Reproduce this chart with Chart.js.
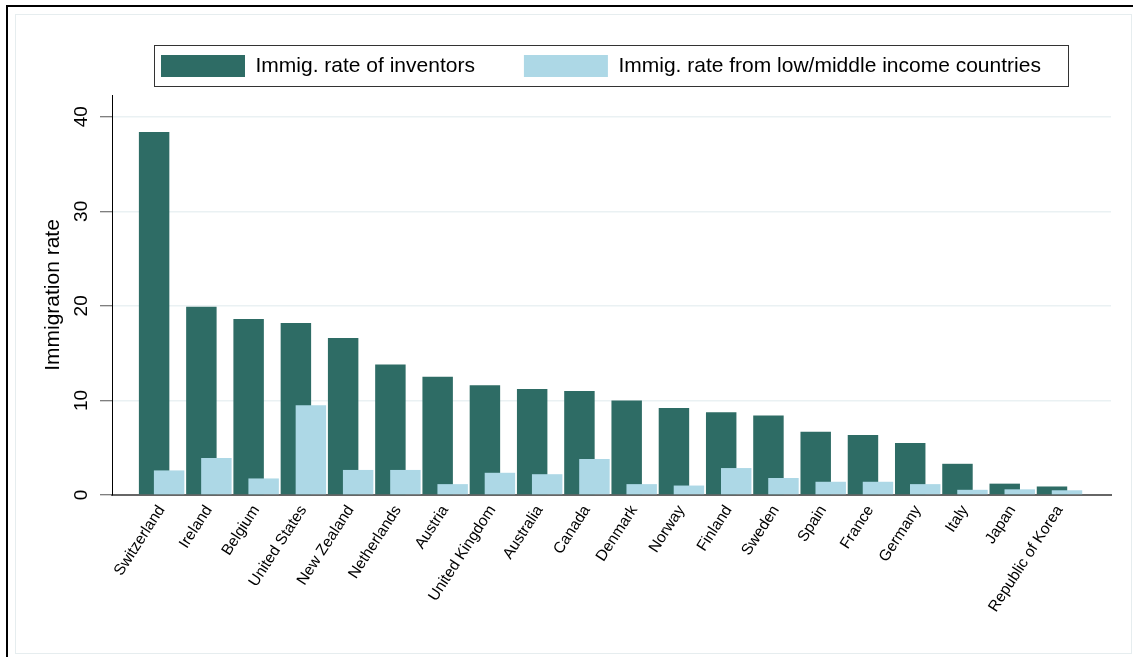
<!DOCTYPE html>
<html>
<head>
<meta charset="utf-8">
<script src="https://cdn.jsdelivr.net/npm/chart.js@4.4.1/dist/chart.umd.min.js"></script>
<style>
  body { margin: 0; background: #fff; }
  #wrap { position: relative; width: 1133px; height: 657px; }
  #outer { position: absolute; left: 6px; top: 5px; right: 0; bottom: 0;
           border-top: 2px solid #000; border-left: 2px solid #000; pointer-events: none; }
  #inner { position: absolute; left: 15px; top: 14px; width: 1115px; height: 638px;
           border: 1px solid #e6edef; pointer-events: none; }
  canvas { position: absolute; left: 0; top: 0; }
</style>
</head>
<body>
<div id="wrap">
  <canvas id="barChart" width="1133" height="657"></canvas>
  <div id="inner"></div>
  <div id="outer"></div>
</div>
<script>
const countries = ["Switzerland", "Ireland", "Belgium", "United States", "New Zealand",
  "Netherlands", "Austria", "United Kingdom", "Australia", "Canada", "Denmark", "Norway",
  "Finland", "Sweden", "Spain", "France", "Germany", "Italy", "Japan", "Republic of Korea"];
const inventorRate = [38.4, 19.9, 18.6, 18.2, 16.6, 13.8, 12.5, 11.6, 11.2, 11.0,
  10.0, 9.2, 8.75, 8.4, 6.7, 6.35, 5.5, 3.3, 1.2, 0.9];
const lowMidRate = [2.6, 3.9, 1.75, 9.5, 2.65, 2.65, 1.15, 2.35, 2.2, 3.8,
  1.15, 1.0, 2.85, 1.8, 1.4, 1.4, 1.15, 0.55, 0.6, 0.5];
const yTicks = [0, 10, 20, 30, 40];

const font = "'Liberation Sans', Arial, sans-serif";

// light bars are drawn after the dark ones (they overlap on the right)
const drawOrder = {
  id: "drawOrder",
  beforeDatasetsDraw(chart) {
    chart.getDatasetMeta(0).controller.draw();
    chart.getDatasetMeta(1).controller.draw();
    return false;
  },
  afterDraw(chart) {
    // frame round the legend
    const hb = chart.legend.legendHitBoxes;
    if (!hb || !hb.length) return;
    const last = hb[hb.length - 1];
    const left = Math.round(hb[0].left - 7) + 0.5;
    const top = Math.round(hb[0].top - 10) + 0.5;
    const right = Math.round(last.left + last.width + 27) + 0.5;
    const ctx = chart.ctx;
    ctx.save();
    ctx.strokeStyle = "#333";
    ctx.lineWidth = 1;
    ctx.strokeRect(left, top, right - left, 41);
    ctx.restore();
  }
};

new Chart(document.getElementById("barChart"), {
  type: "bar",
  data: {
    datasets: [
      {
        label: "Immig. rate of inventors",
        data: inventorRate.map((v, i) => ({ x: i, y: v })),
        backgroundColor: "#2e6c65",
        borderWidth: 0
      },
      {
        label: "Immig. rate from low/middle income countries",
        data: lowMidRate.map((v, i) => ({ x: i, y: v })),
        backgroundColor: "#add8e6",
        borderWidth: 0
      }
    ]
  },
  options: {
    responsive: false,
    animation: false,
    categoryPercentage: 0.635,
    barPercentage: 2.03,
    layout: { padding: { left: 20, right: 22, top: 6, bottom: 0 } },
    plugins: {
      tooltip: { enabled: false },
      legend: {
        position: "top",
        fullSize: false,
        align: "start",
        labels: {
          boxWidth: 84,
          boxHeight: 22,
          padding: 49,
          color: "#000",
          font: { family: font, size: 21 }
        }
      },
      // empty spacer between the legend and the plot
      title: {
        display: true,
        text: [],
        weight: 500,
        fullSize: false,
        padding: { top: 8, bottom: 0 }
      }
    },
    scales: {
      x: {
        type: "linear",
        offset: false,
        min: -1.05,
        max: 20.09,
        grid: { display: false, drawTicks: false },
        border: { color: "#666", width: 2 },
        afterFit: s => { s.height = 162; },
        ticks: {
          stepSize: 1,
          autoSkip: false,
          includeBounds: false,
          minRotation: 57,
          maxRotation: 57,
          padding: 7,
          color: "#000",
          font: { family: font, size: 15.5 },
          callback: v => countries[v] ?? null
        }
      },
      y: {
        min: 0,
        max: 42.3,
        afterFit: s => { s.width = 92; },
        afterBuildTicks: s => { s.ticks = yTicks.map(v => ({ value: v })); },
        grid: { color: "#eaf1f3", lineWidth: 1.5, tickLength: 12, tickColor: "#555", tickWidth: 1 },
        border: { color: "#000", width: 1 },
        title: {
          display: true,
          text: "Immigration rate",
          color: "#000",
          font: { family: font, size: 21 },
          padding: { top: 21, bottom: 0 }
        },
        ticks: {
          minRotation: 90,
          maxRotation: 90,
          crossAlign: "center",
          padding: 8,
          color: "#000",
          font: { family: font, size: 19 }
        }
      }
    }
  },
  plugins: [drawOrder]
});
</script>
</body>
</html>
